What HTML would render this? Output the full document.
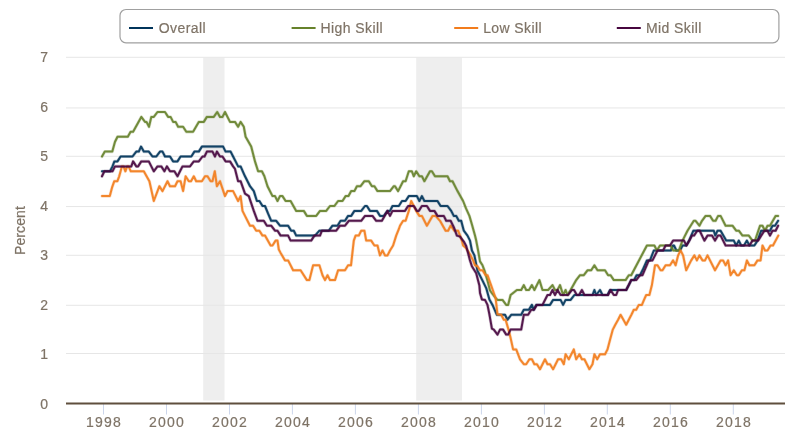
<!DOCTYPE html>
<html><head><meta charset="utf-8"><title>Wage Growth by Skill</title>
<style>
html,body{margin:0;padding:0;background:#fff;}
body{width:802px;height:448px;overflow:hidden;}
svg{display:block;will-change:transform;}
.t{font-family:"Liberation Sans",Arial,Helvetica,sans-serif;font-size:13px;fill:#7e7366;stroke:#7e7366;stroke-width:0.2px;}
</style></head><body>
<svg width="802" height="448" viewBox="0 0 802 448">
<rect x="203.2" y="57.8" width="21.3" height="342.7" fill="#eeeeee"/>
<rect x="416.2" y="57.8" width="45.8" height="342.7" fill="#eeeeee"/>
<path d="M66 353.50 H785" stroke="#e6e6e6" stroke-width="1"/>
<path d="M66 305.30 H785" stroke="#e6e6e6" stroke-width="1"/>
<path d="M66 255.30 H785" stroke="#e6e6e6" stroke-width="1"/>
<path d="M66 206.55 H785" stroke="#e6e6e6" stroke-width="1"/>
<path d="M66 156.30 H785" stroke="#e6e6e6" stroke-width="1"/>
<path d="M66 107.95 H785" stroke="#e6e6e6" stroke-width="1"/>
<path d="M66 57.30 H785" stroke="#e6e6e6" stroke-width="1"/>
<text x="48.1" y="408.5" text-anchor="end" class="t" style="font-size:14px">0</text>
<text x="48.1" y="359.0" text-anchor="end" class="t" style="font-size:14px">1</text>
<text x="48.1" y="309.6" text-anchor="end" class="t" style="font-size:14px">2</text>
<text x="48.1" y="260.1" text-anchor="end" class="t" style="font-size:14px">3</text>
<text x="48.1" y="210.7" text-anchor="end" class="t" style="font-size:14px">4</text>
<text x="48.1" y="161.2" text-anchor="end" class="t" style="font-size:14px">5</text>
<text x="48.1" y="111.7" text-anchor="end" class="t" style="font-size:14px">6</text>
<text x="48.1" y="62.3" text-anchor="end" class="t" style="font-size:14px">7</text>
<path d="M103.5 404 V414.5" stroke="#ccd6eb" stroke-width="1"/>
<text x="104.1" y="427" text-anchor="middle" class="t" style="font-size:14px" letter-spacing="1.2">1998</text>
<path d="M166.5 404 V414.5" stroke="#ccd6eb" stroke-width="1"/>
<text x="167.1" y="427" text-anchor="middle" class="t" style="font-size:14px" letter-spacing="1.2">2000</text>
<path d="M229.5 404 V414.5" stroke="#ccd6eb" stroke-width="1"/>
<text x="230.1" y="427" text-anchor="middle" class="t" style="font-size:14px" letter-spacing="1.2">2002</text>
<path d="M292.4 404 V414.5" stroke="#ccd6eb" stroke-width="1"/>
<text x="293.0" y="427" text-anchor="middle" class="t" style="font-size:14px" letter-spacing="1.2">2004</text>
<path d="M355.4 404 V414.5" stroke="#ccd6eb" stroke-width="1"/>
<text x="356.0" y="427" text-anchor="middle" class="t" style="font-size:14px" letter-spacing="1.2">2006</text>
<path d="M418.4 404 V414.5" stroke="#ccd6eb" stroke-width="1"/>
<text x="419.0" y="427" text-anchor="middle" class="t" style="font-size:14px" letter-spacing="1.2">2008</text>
<path d="M481.4 404 V414.5" stroke="#ccd6eb" stroke-width="1"/>
<text x="482.0" y="427" text-anchor="middle" class="t" style="font-size:14px" letter-spacing="1.2">2010</text>
<path d="M544.4 404 V414.5" stroke="#ccd6eb" stroke-width="1"/>
<text x="545.0" y="427" text-anchor="middle" class="t" style="font-size:14px" letter-spacing="1.2">2012</text>
<path d="M607.3 404 V414.5" stroke="#ccd6eb" stroke-width="1"/>
<text x="607.9" y="427" text-anchor="middle" class="t" style="font-size:14px" letter-spacing="1.2">2014</text>
<path d="M670.3 404 V414.5" stroke="#ccd6eb" stroke-width="1"/>
<text x="670.9" y="427" text-anchor="middle" class="t" style="font-size:14px" letter-spacing="1.2">2016</text>
<path d="M733.3 404 V414.5" stroke="#ccd6eb" stroke-width="1"/>
<text x="733.9" y="427" text-anchor="middle" class="t" style="font-size:14px" letter-spacing="1.2">2018</text>
<path d="M66 403.4 H785" stroke="#5f4f3d" stroke-width="2"/>
<text transform="translate(24.6 230.5) rotate(-90)" text-anchor="middle" class="t" style="font-size:14px" letter-spacing="0.1">Percent</text>
<g>
<path d="M102.0 171.3 L110.0 171.3 L112.5 166.4 L114.4 161.4 L117.5 161.4 L120.6 156.5 L132.5 156.5 L136.3 151.6 L138.8 151.6 L141.0 146.6 L143.8 151.6 L148.8 151.6 L152.5 156.5 L156.3 156.5 L160.0 151.6 L162.5 151.6 L165.0 156.5 L170.0 156.5 L173.1 161.4 L177.5 161.4 L180.6 156.5 L191.3 156.5 L194.4 151.6 L198.8 151.6 L201.9 146.6 L223.1 146.6 L225.6 151.6 L230.6 151.6 L233.1 156.5 L235.6 161.4 L238.1 166.4 L240.6 166.4 L245.0 176.3 L247.5 181.2 L250.0 186.2 L253.8 191.1 L256.9 201.0 L259.4 201.0 L262.5 206.0 L265.0 206.0 L268.0 213.4 L271.2 220.8 L276.2 220.8 L280.0 225.7 L288.1 225.7 L291.2 230.7 L293.8 230.7 L296.2 235.6 L315.0 235.6 L319.4 230.7 L328.8 230.7 L332.5 225.7 L337.5 225.7 L340.6 220.8 L345.0 220.8 L348.1 215.9 L351.2 215.9 L354.4 210.9 L361.2 210.9 L365.0 206.0 L366.9 206.0 L370.0 210.9 L376.9 210.9 L380.0 215.9 L383.8 215.9 L387.5 210.9 L390.0 210.9 L392.5 206.0 L398.8 206.0 L402.0 201.0 L405.6 201.0 L408.8 196.1 L416.9 196.1 L419.4 201.0 L421.9 196.1 L424.4 201.0 L437.5 201.0 L440.6 206.0 L447.5 206.0 L451.2 210.9 L453.8 215.9 L456.2 215.9 L458.8 220.8 L461.2 220.8 L463.8 230.7 L467.5 235.6 L470.0 240.6 L471.9 250.5 L474.4 255.4 L477.5 270.8 L482.5 280.6 L486.2 288.1 L489.4 299.4 L492.5 304.9 L496.9 314.8 L502.5 314.8 L505.0 314.8 L507.5 319.7 L511.2 314.8 L521.2 314.8 L523.8 309.8 L528.8 309.8 L531.9 304.9 L533.8 309.8 L536.2 304.9 L550.0 304.9 L553.1 299.9 L560.6 299.9 L563.1 304.9 L565.6 299.9 L570.6 299.9 L574.4 295.0 L592.5 295.0 L594.4 290.0 L596.2 295.0 L600.0 290.0 L602.5 295.0 L607.5 295.0 L610.0 290.0 L626.2 290.0 L628.8 285.1 L631.2 280.1 L634.0 280.1 L636.6 275.2 L640.0 275.2 L642.5 270.3 L646.9 260.4 L650.0 260.4 L653.8 250.5 L670.8 250.5 L673.0 245.5 L674.0 245.5 L676.4 250.5 L680.0 250.5 L682.5 245.5 L686.4 245.5 L689.1 240.6 L693.4 230.7 L713.8 230.7 L715.3 235.6 L717.5 230.7 L720.6 230.7 L726.2 240.6 L733.8 240.6 L736.2 245.5 L738.8 240.6 L741.2 245.5 L744.0 245.5 L746.9 240.6 L749.4 245.5 L754.4 245.5 L757.5 240.6 L761.2 230.7 L770.0 230.7 L772.5 225.7 L775.0 225.7 L778.1 220.8" fill="none" stroke="#00345a" stroke-opacity="0.25" stroke-width="3.2" stroke-linejoin="round" stroke-linecap="round"/>
<path d="M102.0 171.3 L110.0 171.3 L112.5 166.4 L114.4 161.4 L117.5 161.4 L120.6 156.5 L132.5 156.5 L136.3 151.6 L138.8 151.6 L141.0 146.6 L143.8 151.6 L148.8 151.6 L152.5 156.5 L156.3 156.5 L160.0 151.6 L162.5 151.6 L165.0 156.5 L170.0 156.5 L173.1 161.4 L177.5 161.4 L180.6 156.5 L191.3 156.5 L194.4 151.6 L198.8 151.6 L201.9 146.6 L223.1 146.6 L225.6 151.6 L230.6 151.6 L233.1 156.5 L235.6 161.4 L238.1 166.4 L240.6 166.4 L245.0 176.3 L247.5 181.2 L250.0 186.2 L253.8 191.1 L256.9 201.0 L259.4 201.0 L262.5 206.0 L265.0 206.0 L268.0 213.4 L271.2 220.8 L276.2 220.8 L280.0 225.7 L288.1 225.7 L291.2 230.7 L293.8 230.7 L296.2 235.6 L315.0 235.6 L319.4 230.7 L328.8 230.7 L332.5 225.7 L337.5 225.7 L340.6 220.8 L345.0 220.8 L348.1 215.9 L351.2 215.9 L354.4 210.9 L361.2 210.9 L365.0 206.0 L366.9 206.0 L370.0 210.9 L376.9 210.9 L380.0 215.9 L383.8 215.9 L387.5 210.9 L390.0 210.9 L392.5 206.0 L398.8 206.0 L402.0 201.0 L405.6 201.0 L408.8 196.1 L416.9 196.1 L419.4 201.0 L421.9 196.1 L424.4 201.0 L437.5 201.0 L440.6 206.0 L447.5 206.0 L451.2 210.9 L453.8 215.9 L456.2 215.9 L458.8 220.8 L461.2 220.8 L463.8 230.7 L467.5 235.6 L470.0 240.6 L471.9 250.5 L474.4 255.4 L477.5 270.8 L482.5 280.6 L486.2 288.1 L489.4 299.4 L492.5 304.9 L496.9 314.8 L502.5 314.8 L505.0 314.8 L507.5 319.7 L511.2 314.8 L521.2 314.8 L523.8 309.8 L528.8 309.8 L531.9 304.9 L533.8 309.8 L536.2 304.9 L550.0 304.9 L553.1 299.9 L560.6 299.9 L563.1 304.9 L565.6 299.9 L570.6 299.9 L574.4 295.0 L592.5 295.0 L594.4 290.0 L596.2 295.0 L600.0 290.0 L602.5 295.0 L607.5 295.0 L610.0 290.0 L626.2 290.0 L628.8 285.1 L631.2 280.1 L634.0 280.1 L636.6 275.2 L640.0 275.2 L642.5 270.3 L646.9 260.4 L650.0 260.4 L653.8 250.5 L670.8 250.5 L673.0 245.5 L674.0 245.5 L676.4 250.5 L680.0 250.5 L682.5 245.5 L686.4 245.5 L689.1 240.6 L693.4 230.7 L713.8 230.7 L715.3 235.6 L717.5 230.7 L720.6 230.7 L726.2 240.6 L733.8 240.6 L736.2 245.5 L738.8 240.6 L741.2 245.5 L744.0 245.5 L746.9 240.6 L749.4 245.5 L754.4 245.5 L757.5 240.6 L761.2 230.7 L770.0 230.7 L772.5 225.7 L775.0 225.7 L778.1 220.8" fill="none" stroke="#00345a" stroke-opacity="0.9" stroke-width="2" stroke-linejoin="round" stroke-linecap="round"/>
<path d="M102.0 156.5 L104.8 151.6 L112.3 151.6 L115.0 141.7 L117.5 136.7 L127.8 136.7 L130.6 131.8 L133.1 131.8 L141.3 116.9 L145.0 121.9 L146.5 121.9 L149.0 126.8 L151.3 116.9 L153.8 116.9 L157.5 112.0 L165.0 112.0 L168.1 116.9 L170.6 116.9 L173.1 121.9 L175.6 121.9 L178.1 126.8 L183.1 126.8 L186.3 131.8 L193.1 131.8 L196.0 126.8 L198.8 121.9 L203.8 121.9 L206.9 116.9 L213.8 116.9 L217.2 112.0 L220.0 116.9 L222.5 116.9 L225.0 112.0 L230.0 121.9 L235.0 121.9 L238.1 126.8 L240.6 121.9 L243.8 126.8 L245.6 136.7 L251.2 146.6 L255.0 161.4 L258.1 171.3 L261.9 171.3 L264.4 176.3 L267.5 186.2 L272.5 196.1 L275.0 196.1 L277.5 201.0 L280.0 196.1 L282.5 196.1 L285.6 201.0 L290.6 201.0 L296.2 210.9 L303.8 210.9 L306.9 215.9 L316.2 215.9 L320.0 210.9 L326.2 210.9 L330.0 206.0 L334.4 206.0 L338.1 201.0 L342.5 201.0 L345.6 196.1 L348.5 196.1 L351.2 191.1 L354.4 191.1 L356.9 186.2 L360.6 186.2 L364.4 181.2 L368.8 181.2 L371.9 186.2 L374.4 186.2 L377.5 191.1 L390.0 191.1 L393.8 186.2 L395.0 186.2 L398.1 191.1 L403.1 181.2 L405.6 181.2 L408.8 171.3 L411.9 171.3 L413.8 176.3 L416.2 171.3 L419.4 176.3 L421.9 176.3 L424.4 181.2 L430.0 171.3 L431.9 171.3 L435.0 176.3 L447.5 176.3 L450.0 181.2 L452.5 181.2 L457.5 191.1 L463.1 201.0 L466.0 208.4 L469.4 215.9 L472.0 224.8 L475.0 235.6 L476.2 240.6 L478.1 250.5 L480.0 261.4 L482.5 265.3 L484.4 270.3 L487.5 280.6 L490.0 290.5 L492.5 294.0 L495.6 298.0 L497.5 299.9 L502.5 299.9 L506.2 304.9 L508.1 304.9 L510.6 295.0 L516.9 290.0 L521.2 290.0 L523.8 285.1 L526.2 290.0 L529.0 290.0 L531.9 285.1 L534.4 290.0 L539.4 280.1 L542.5 290.0 L548.1 290.0 L552.5 285.1 L555.0 290.0 L557.5 290.0 L560.0 285.1 L563.1 295.0 L565.6 290.0 L567.5 295.0 L570.6 290.0 L576.2 280.1 L580.0 275.2 L583.8 275.2 L587.5 270.3 L591.2 270.3 L594.4 265.3 L597.5 270.3 L605.0 270.3 L608.1 275.2 L610.6 275.2 L613.8 280.1 L625.6 280.1 L628.8 275.2 L631.2 275.2 L646.9 245.5 L654.4 245.5 L656.9 250.5 L660.0 245.5 L670.5 245.5 L673.3 250.5 L678.8 250.5 L682.5 240.6 L687.5 230.7 L693.8 220.8 L695.6 220.8 L699.4 225.7 L702.0 220.8 L705.6 215.9 L710.0 215.9 L713.1 220.8 L715.6 220.8 L718.1 215.9 L720.6 215.9 L725.6 225.7 L732.5 225.7 L736.2 230.7 L738.8 230.7 L742.5 235.6 L748.8 235.6 L752.5 240.6 L755.0 240.6 L760.0 225.7 L762.5 225.7 L765.0 230.7 L767.5 225.7 L770.0 225.7 L775.6 215.9 L778.1 215.9" fill="none" stroke="#66822b" stroke-opacity="0.25" stroke-width="3.2" stroke-linejoin="round" stroke-linecap="round"/>
<path d="M102.0 156.5 L104.8 151.6 L112.3 151.6 L115.0 141.7 L117.5 136.7 L127.8 136.7 L130.6 131.8 L133.1 131.8 L141.3 116.9 L145.0 121.9 L146.5 121.9 L149.0 126.8 L151.3 116.9 L153.8 116.9 L157.5 112.0 L165.0 112.0 L168.1 116.9 L170.6 116.9 L173.1 121.9 L175.6 121.9 L178.1 126.8 L183.1 126.8 L186.3 131.8 L193.1 131.8 L196.0 126.8 L198.8 121.9 L203.8 121.9 L206.9 116.9 L213.8 116.9 L217.2 112.0 L220.0 116.9 L222.5 116.9 L225.0 112.0 L230.0 121.9 L235.0 121.9 L238.1 126.8 L240.6 121.9 L243.8 126.8 L245.6 136.7 L251.2 146.6 L255.0 161.4 L258.1 171.3 L261.9 171.3 L264.4 176.3 L267.5 186.2 L272.5 196.1 L275.0 196.1 L277.5 201.0 L280.0 196.1 L282.5 196.1 L285.6 201.0 L290.6 201.0 L296.2 210.9 L303.8 210.9 L306.9 215.9 L316.2 215.9 L320.0 210.9 L326.2 210.9 L330.0 206.0 L334.4 206.0 L338.1 201.0 L342.5 201.0 L345.6 196.1 L348.5 196.1 L351.2 191.1 L354.4 191.1 L356.9 186.2 L360.6 186.2 L364.4 181.2 L368.8 181.2 L371.9 186.2 L374.4 186.2 L377.5 191.1 L390.0 191.1 L393.8 186.2 L395.0 186.2 L398.1 191.1 L403.1 181.2 L405.6 181.2 L408.8 171.3 L411.9 171.3 L413.8 176.3 L416.2 171.3 L419.4 176.3 L421.9 176.3 L424.4 181.2 L430.0 171.3 L431.9 171.3 L435.0 176.3 L447.5 176.3 L450.0 181.2 L452.5 181.2 L457.5 191.1 L463.1 201.0 L466.0 208.4 L469.4 215.9 L472.0 224.8 L475.0 235.6 L476.2 240.6 L478.1 250.5 L480.0 261.4 L482.5 265.3 L484.4 270.3 L487.5 280.6 L490.0 290.5 L492.5 294.0 L495.6 298.0 L497.5 299.9 L502.5 299.9 L506.2 304.9 L508.1 304.9 L510.6 295.0 L516.9 290.0 L521.2 290.0 L523.8 285.1 L526.2 290.0 L529.0 290.0 L531.9 285.1 L534.4 290.0 L539.4 280.1 L542.5 290.0 L548.1 290.0 L552.5 285.1 L555.0 290.0 L557.5 290.0 L560.0 285.1 L563.1 295.0 L565.6 290.0 L567.5 295.0 L570.6 290.0 L576.2 280.1 L580.0 275.2 L583.8 275.2 L587.5 270.3 L591.2 270.3 L594.4 265.3 L597.5 270.3 L605.0 270.3 L608.1 275.2 L610.6 275.2 L613.8 280.1 L625.6 280.1 L628.8 275.2 L631.2 275.2 L646.9 245.5 L654.4 245.5 L656.9 250.5 L660.0 245.5 L670.5 245.5 L673.3 250.5 L678.8 250.5 L682.5 240.6 L687.5 230.7 L693.8 220.8 L695.6 220.8 L699.4 225.7 L702.0 220.8 L705.6 215.9 L710.0 215.9 L713.1 220.8 L715.6 220.8 L718.1 215.9 L720.6 215.9 L725.6 225.7 L732.5 225.7 L736.2 230.7 L738.8 230.7 L742.5 235.6 L748.8 235.6 L752.5 240.6 L755.0 240.6 L760.0 225.7 L762.5 225.7 L765.0 230.7 L767.5 225.7 L770.0 225.7 L775.6 215.9 L778.1 215.9" fill="none" stroke="#66822b" stroke-opacity="0.9" stroke-width="2" stroke-linejoin="round" stroke-linecap="round"/>
<path d="M102.0 196.1 L109.8 196.1 L112.0 187.7 L114.3 181.2 L117.4 181.2 L119.2 176.3 L121.9 166.4 L123.5 166.4 L125.4 171.3 L127.2 166.4 L128.6 166.4 L130.8 171.3 L143.8 171.3 L149.4 181.2 L153.8 201.0 L159.4 186.2 L162.5 191.1 L167.5 181.2 L170.0 186.2 L175.0 186.2 L177.5 181.2 L180.6 181.2 L183.1 191.1 L185.6 176.3 L188.8 181.2 L191.0 181.2 L193.8 176.3 L196.2 181.2 L201.9 181.2 L205.0 176.3 L207.5 176.3 L210.6 181.2 L212.5 181.2 L214.8 171.3 L216.9 186.2 L220.0 181.2 L225.0 196.1 L227.5 191.1 L233.1 191.1 L238.1 201.0 L240.6 196.1 L242.5 210.9 L245.0 215.9 L250.0 225.7 L253.1 225.7 L256.2 230.7 L259.4 230.7 L262.5 235.6 L265.0 235.6 L270.6 245.5 L272.5 245.5 L275.6 240.6 L277.5 240.6 L278.8 249.5 L280.6 252.9 L285.0 260.4 L288.1 260.4 L293.1 270.3 L300.6 270.3 L306.9 280.1 L309.4 280.1 L313.1 265.3 L315.0 265.3 L319.4 265.3 L322.5 275.2 L325.0 280.1 L327.5 275.2 L330.0 280.1 L335.0 280.1 L338.1 270.3 L345.0 270.3 L348.1 265.3 L351.0 265.3 L353.8 240.6 L355.6 235.6 L358.8 235.6 L361.2 230.7 L364.4 230.7 L366.2 240.6 L371.2 240.6 L374.4 245.5 L377.5 245.5 L380.0 255.4 L382.5 250.5 L385.0 255.4 L387.5 255.4 L390.0 250.5 L393.1 245.5 L396.2 235.6 L398.8 229.2 L400.0 225.7 L403.1 220.8 L405.6 220.8 L408.8 210.9 L411.2 201.0 L413.8 206.0 L416.2 210.9 L419.4 215.9 L421.9 215.9 L426.9 225.7 L432.5 215.9 L435.6 215.9 L440.0 220.8 L445.6 230.7 L448.1 230.7 L450.6 225.7 L454.4 230.7 L458.1 230.7 L461.9 240.6 L463.1 245.5 L466.0 248.0 L470.6 255.4 L473.1 260.4 L475.0 265.3 L477.5 266.3 L480.0 270.3 L482.5 270.3 L485.6 275.2 L487.5 275.2 L491.2 285.6 L493.8 293.0 L495.6 298.0 L497.5 314.3 L501.2 314.8 L503.8 319.7 L505.6 319.7 L508.8 330.6 L510.6 338.0 L513.1 349.4 L516.2 349.4 L520.0 359.3 L523.8 364.2 L526.2 364.2 L529.4 359.3 L531.9 359.3 L534.4 364.2 L536.9 364.2 L540.0 369.2 L545.0 359.3 L547.5 364.2 L550.0 364.2 L553.1 369.2 L558.1 359.3 L561.2 359.3 L563.8 364.2 L565.6 354.3 L568.8 359.3 L573.8 349.4 L576.2 359.3 L579.4 354.3 L581.9 359.3 L584.4 359.3 L589.4 369.2 L592.5 364.2 L594.4 354.3 L597.2 359.3 L600.0 354.3 L605.0 354.3 L607.5 349.4 L610.1 339.5 L612.8 329.6 L615.3 324.7 L618.1 319.7 L620.6 314.8 L623.4 319.7 L626.2 324.7 L628.8 319.7 L631.4 314.8 L633.8 309.8 L636.2 309.8 L638.8 304.9 L641.9 304.9 L644.0 299.9 L646.2 295.0 L649.4 295.0 L651.9 285.1 L655.0 265.3 L657.5 265.3 L660.6 270.3 L662.5 270.3 L665.6 265.3 L670.0 265.3 L673.1 260.4 L675.6 265.3 L678.1 255.4 L680.6 250.5 L683.1 255.4 L686.2 270.3 L691.2 260.4 L694.4 255.4 L696.9 260.4 L699.4 255.4 L702.5 260.4 L705.0 260.4 L707.5 255.4 L715.0 270.3 L720.6 260.4 L723.1 260.4 L725.6 265.3 L728.1 260.4 L730.6 275.2 L733.8 270.3 L736.9 275.2 L738.8 275.2 L741.9 270.3 L744.4 270.3 L746.9 260.4 L749.4 265.3 L754.4 265.3 L757.5 260.4 L760.6 260.4 L762.5 245.5 L765.0 250.5 L767.5 250.5 L770.5 245.5 L773.0 245.5 L778.3 235.6" fill="none" stroke="#f27c1c" stroke-opacity="0.25" stroke-width="3.2" stroke-linejoin="round" stroke-linecap="round"/>
<path d="M102.0 196.1 L109.8 196.1 L112.0 187.7 L114.3 181.2 L117.4 181.2 L119.2 176.3 L121.9 166.4 L123.5 166.4 L125.4 171.3 L127.2 166.4 L128.6 166.4 L130.8 171.3 L143.8 171.3 L149.4 181.2 L153.8 201.0 L159.4 186.2 L162.5 191.1 L167.5 181.2 L170.0 186.2 L175.0 186.2 L177.5 181.2 L180.6 181.2 L183.1 191.1 L185.6 176.3 L188.8 181.2 L191.0 181.2 L193.8 176.3 L196.2 181.2 L201.9 181.2 L205.0 176.3 L207.5 176.3 L210.6 181.2 L212.5 181.2 L214.8 171.3 L216.9 186.2 L220.0 181.2 L225.0 196.1 L227.5 191.1 L233.1 191.1 L238.1 201.0 L240.6 196.1 L242.5 210.9 L245.0 215.9 L250.0 225.7 L253.1 225.7 L256.2 230.7 L259.4 230.7 L262.5 235.6 L265.0 235.6 L270.6 245.5 L272.5 245.5 L275.6 240.6 L277.5 240.6 L278.8 249.5 L280.6 252.9 L285.0 260.4 L288.1 260.4 L293.1 270.3 L300.6 270.3 L306.9 280.1 L309.4 280.1 L313.1 265.3 L315.0 265.3 L319.4 265.3 L322.5 275.2 L325.0 280.1 L327.5 275.2 L330.0 280.1 L335.0 280.1 L338.1 270.3 L345.0 270.3 L348.1 265.3 L351.0 265.3 L353.8 240.6 L355.6 235.6 L358.8 235.6 L361.2 230.7 L364.4 230.7 L366.2 240.6 L371.2 240.6 L374.4 245.5 L377.5 245.5 L380.0 255.4 L382.5 250.5 L385.0 255.4 L387.5 255.4 L390.0 250.5 L393.1 245.5 L396.2 235.6 L398.8 229.2 L400.0 225.7 L403.1 220.8 L405.6 220.8 L408.8 210.9 L411.2 201.0 L413.8 206.0 L416.2 210.9 L419.4 215.9 L421.9 215.9 L426.9 225.7 L432.5 215.9 L435.6 215.9 L440.0 220.8 L445.6 230.7 L448.1 230.7 L450.6 225.7 L454.4 230.7 L458.1 230.7 L461.9 240.6 L463.1 245.5 L466.0 248.0 L470.6 255.4 L473.1 260.4 L475.0 265.3 L477.5 266.3 L480.0 270.3 L482.5 270.3 L485.6 275.2 L487.5 275.2 L491.2 285.6 L493.8 293.0 L495.6 298.0 L497.5 314.3 L501.2 314.8 L503.8 319.7 L505.6 319.7 L508.8 330.6 L510.6 338.0 L513.1 349.4 L516.2 349.4 L520.0 359.3 L523.8 364.2 L526.2 364.2 L529.4 359.3 L531.9 359.3 L534.4 364.2 L536.9 364.2 L540.0 369.2 L545.0 359.3 L547.5 364.2 L550.0 364.2 L553.1 369.2 L558.1 359.3 L561.2 359.3 L563.8 364.2 L565.6 354.3 L568.8 359.3 L573.8 349.4 L576.2 359.3 L579.4 354.3 L581.9 359.3 L584.4 359.3 L589.4 369.2 L592.5 364.2 L594.4 354.3 L597.2 359.3 L600.0 354.3 L605.0 354.3 L607.5 349.4 L610.1 339.5 L612.8 329.6 L615.3 324.7 L618.1 319.7 L620.6 314.8 L623.4 319.7 L626.2 324.7 L628.8 319.7 L631.4 314.8 L633.8 309.8 L636.2 309.8 L638.8 304.9 L641.9 304.9 L644.0 299.9 L646.2 295.0 L649.4 295.0 L651.9 285.1 L655.0 265.3 L657.5 265.3 L660.6 270.3 L662.5 270.3 L665.6 265.3 L670.0 265.3 L673.1 260.4 L675.6 265.3 L678.1 255.4 L680.6 250.5 L683.1 255.4 L686.2 270.3 L691.2 260.4 L694.4 255.4 L696.9 260.4 L699.4 255.4 L702.5 260.4 L705.0 260.4 L707.5 255.4 L715.0 270.3 L720.6 260.4 L723.1 260.4 L725.6 265.3 L728.1 260.4 L730.6 275.2 L733.8 270.3 L736.9 275.2 L738.8 275.2 L741.9 270.3 L744.4 270.3 L746.9 260.4 L749.4 265.3 L754.4 265.3 L757.5 260.4 L760.6 260.4 L762.5 245.5 L765.0 250.5 L767.5 250.5 L770.5 245.5 L773.0 245.5 L778.3 235.6" fill="none" stroke="#f27c1c" stroke-opacity="0.9" stroke-width="2" stroke-linejoin="round" stroke-linecap="round"/>
<path d="M102.0 176.3 L104.4 171.3 L112.5 171.3 L115.0 166.4 L131.3 166.4 L133.1 161.4 L136.3 166.4 L138.1 166.4 L141.3 161.4 L148.8 161.4 L151.3 166.4 L153.8 171.3 L157.5 166.4 L161.3 166.4 L164.4 171.3 L166.9 166.4 L170.0 171.3 L174.4 171.3 L177.5 176.3 L180.0 171.3 L182.5 166.4 L190.0 166.4 L193.8 161.4 L198.8 161.4 L202.5 156.5 L204.5 156.5 L206.9 151.6 L212.5 151.6 L215.0 156.5 L216.9 151.6 L220.0 156.5 L222.5 156.5 L225.6 161.4 L230.0 161.4 L233.1 166.4 L235.0 168.9 L238.1 181.2 L240.6 181.2 L245.0 193.6 L248.8 196.1 L253.8 210.9 L257.5 220.8 L263.8 220.8 L266.9 225.7 L271.2 225.7 L275.0 230.7 L277.5 230.7 L280.6 235.6 L288.1 235.6 L290.6 240.6 L311.2 240.6 L314.4 235.6 L320.0 235.6 L321.9 230.7 L336.2 230.7 L340.0 225.7 L345.0 225.7 L348.8 220.8 L361.2 220.8 L365.0 215.9 L372.5 215.9 L376.2 220.8 L381.9 220.8 L387.5 210.9 L390.0 215.9 L392.5 210.9 L405.0 210.9 L408.1 206.0 L413.8 206.0 L416.9 210.9 L418.8 210.9 L421.9 206.0 L426.9 206.0 L430.0 210.9 L434.4 210.9 L437.5 215.9 L443.8 215.9 L446.2 220.8 L450.6 220.8 L453.8 227.2 L456.9 235.6 L460.0 236.6 L463.8 241.6 L466.2 246.0 L470.0 260.4 L471.9 266.3 L476.2 273.2 L479.4 285.6 L480.0 293.0 L481.9 299.4 L485.0 299.9 L487.5 304.9 L489.4 314.3 L491.9 328.6 L493.8 329.6 L497.5 334.6 L500.0 329.6 L503.1 329.6 L506.2 334.6 L508.1 334.6 L510.6 329.6 L521.2 329.6 L523.8 314.8 L528.1 314.8 L531.2 309.8 L533.8 309.8 L536.9 304.9 L542.5 304.9 L547.5 295.0 L550.0 295.0 L552.5 290.0 L555.0 295.0 L557.5 290.0 L560.6 295.0 L568.1 295.0 L571.9 290.0 L574.0 290.0 L576.9 295.0 L579.0 295.0 L581.9 290.0 L584.4 295.0 L608.1 295.0 L610.6 290.0 L613.8 295.0 L616.2 295.0 L618.1 290.0 L626.2 290.0 L631.2 280.1 L636.2 280.1 L640.0 275.2 L642.5 275.2 L648.8 260.4 L652.5 260.4 L657.5 250.5 L663.1 250.5 L665.6 245.5 L670.0 245.5 L673.1 240.6 L684.0 240.6 L686.4 245.5 L689.4 240.6 L692.0 235.6 L694.0 235.6 L697.3 230.7 L699.7 230.7 L704.4 240.6 L707.5 235.6 L712.0 235.6 L715.0 240.6 L718.0 235.6 L720.6 235.6 L725.6 245.5 L749.4 245.5 L752.5 240.6 L758.1 240.6 L761.2 235.6 L764.4 230.7 L767.5 230.7 L770.0 235.6 L772.5 230.7 L775.6 230.7 L778.1 225.7" fill="none" stroke="#47073f" stroke-opacity="0.25" stroke-width="3.2" stroke-linejoin="round" stroke-linecap="round"/>
<path d="M102.0 176.3 L104.4 171.3 L112.5 171.3 L115.0 166.4 L131.3 166.4 L133.1 161.4 L136.3 166.4 L138.1 166.4 L141.3 161.4 L148.8 161.4 L151.3 166.4 L153.8 171.3 L157.5 166.4 L161.3 166.4 L164.4 171.3 L166.9 166.4 L170.0 171.3 L174.4 171.3 L177.5 176.3 L180.0 171.3 L182.5 166.4 L190.0 166.4 L193.8 161.4 L198.8 161.4 L202.5 156.5 L204.5 156.5 L206.9 151.6 L212.5 151.6 L215.0 156.5 L216.9 151.6 L220.0 156.5 L222.5 156.5 L225.6 161.4 L230.0 161.4 L233.1 166.4 L235.0 168.9 L238.1 181.2 L240.6 181.2 L245.0 193.6 L248.8 196.1 L253.8 210.9 L257.5 220.8 L263.8 220.8 L266.9 225.7 L271.2 225.7 L275.0 230.7 L277.5 230.7 L280.6 235.6 L288.1 235.6 L290.6 240.6 L311.2 240.6 L314.4 235.6 L320.0 235.6 L321.9 230.7 L336.2 230.7 L340.0 225.7 L345.0 225.7 L348.8 220.8 L361.2 220.8 L365.0 215.9 L372.5 215.9 L376.2 220.8 L381.9 220.8 L387.5 210.9 L390.0 215.9 L392.5 210.9 L405.0 210.9 L408.1 206.0 L413.8 206.0 L416.9 210.9 L418.8 210.9 L421.9 206.0 L426.9 206.0 L430.0 210.9 L434.4 210.9 L437.5 215.9 L443.8 215.9 L446.2 220.8 L450.6 220.8 L453.8 227.2 L456.9 235.6 L460.0 236.6 L463.8 241.6 L466.2 246.0 L470.0 260.4 L471.9 266.3 L476.2 273.2 L479.4 285.6 L480.0 293.0 L481.9 299.4 L485.0 299.9 L487.5 304.9 L489.4 314.3 L491.9 328.6 L493.8 329.6 L497.5 334.6 L500.0 329.6 L503.1 329.6 L506.2 334.6 L508.1 334.6 L510.6 329.6 L521.2 329.6 L523.8 314.8 L528.1 314.8 L531.2 309.8 L533.8 309.8 L536.9 304.9 L542.5 304.9 L547.5 295.0 L550.0 295.0 L552.5 290.0 L555.0 295.0 L557.5 290.0 L560.6 295.0 L568.1 295.0 L571.9 290.0 L574.0 290.0 L576.9 295.0 L579.0 295.0 L581.9 290.0 L584.4 295.0 L608.1 295.0 L610.6 290.0 L613.8 295.0 L616.2 295.0 L618.1 290.0 L626.2 290.0 L631.2 280.1 L636.2 280.1 L640.0 275.2 L642.5 275.2 L648.8 260.4 L652.5 260.4 L657.5 250.5 L663.1 250.5 L665.6 245.5 L670.0 245.5 L673.1 240.6 L684.0 240.6 L686.4 245.5 L689.4 240.6 L692.0 235.6 L694.0 235.6 L697.3 230.7 L699.7 230.7 L704.4 240.6 L707.5 235.6 L712.0 235.6 L715.0 240.6 L718.0 235.6 L720.6 235.6 L725.6 245.5 L749.4 245.5 L752.5 240.6 L758.1 240.6 L761.2 235.6 L764.4 230.7 L767.5 230.7 L770.0 235.6 L772.5 230.7 L775.6 230.7 L778.1 225.7" fill="none" stroke="#47073f" stroke-opacity="0.9" stroke-width="2" stroke-linejoin="round" stroke-linecap="round"/>
</g>
<rect x="120" y="9.5" width="658.9" height="33.3" rx="6" ry="6" fill="none" stroke="#a0a0a0" stroke-width="1.2"/>
<path d="M129.0 28 H153.0" stroke="#00345a" stroke-width="2"/>
<text x="158.8" y="32.8" class="t" style="font-size:14px" letter-spacing="0.4">Overall</text>
<path d="M291.6 28 H315.6" stroke="#66822b" stroke-width="2"/>
<text x="320.6" y="32.8" class="t" style="font-size:14px" letter-spacing="0.4">High Skill</text>
<path d="M454.2 28 H478.2" stroke="#f27c1c" stroke-width="2"/>
<text x="483.2" y="32.8" class="t" style="font-size:14px" letter-spacing="0.4">Low Skill</text>
<path d="M616.8 28 H640.8" stroke="#47073f" stroke-width="2"/>
<text x="646.0" y="32.8" class="t" style="font-size:14px" letter-spacing="0.4">Mid Skill</text>
</svg>
</body></html>
